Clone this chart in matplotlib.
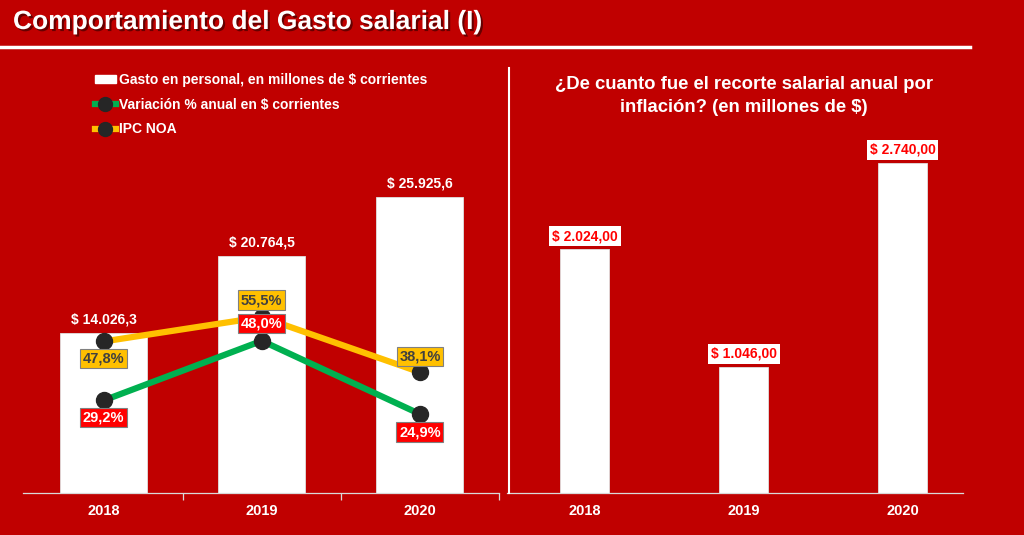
import matplotlib
matplotlib.use('Agg')
import matplotlib.pyplot as plt
from matplotlib import patheffects as pe
from matplotlib.lines import Line2D
from matplotlib.patches import Patch

plt.rcParams['font.family'] = ['Liberation Sans', 'DejaVu Sans']

# ---- data ----
years = ['2018', '2019', '2020']
gasto = [14026.3, 20764.5, 25925.6]
gasto_labels = ['$ 14.026,3', '$ 20.764,5', '$ 25.925,6']
variacion = [29.2, 48.0, 24.9]
variacion_labels = ['29,2%', '48,0%', '24,9%']
ipc = [47.8, 55.5, 38.1]
ipc_labels = ['47,8%', '55,5%', '38,1%']
recorte = [2024.00, 1046.00, 2740.00]
recorte_labels = ['$ 2.024,00', '$ 1.046,00', '$ 2.740,00']

legend_labels = ['Gasto en personal, en millones de $ corrientes',
                 'Variación % anual en $ corrientes',
                 'IPC NOA']
title = 'Comportamiento del Gasto salarial (I)'
right_title = '¿De cuanto fue el recorte salarial anual por\ninflación? (en millones de $)'

# ---- style ----
BG = '#C00000'
GREEN = '#00B050'
YELLOW = '#FFC000'
DARK = '#262626'
AXIS = '#D9D9D9'

W, H = 1024, 535
fig = plt.figure(figsize=(W / 100, H / 100), dpi=100, facecolor=BG)


def fx(px):
    return px / W


def fy(py):
    return 1 - py / H


def style_axis(a):
    a.set_facecolor('none')
    for s in ['top', 'right', 'left']:
        a.spines[s].set_visible(False)
    a.spines['bottom'].set_color(AXIS)
    a.spines['bottom'].set_linewidth(0.9)
    a.set_yticks([])
    a.tick_params(axis='x', which='major', length=0, pad=8,
                  labelcolor='white', labelsize=10.5)
    for lab in a.get_xticklabels():
        lab.set_fontweight('bold')


x = list(range(len(years)))

# ---- left chart ----
ax = fig.add_axes([fx(23), 1 - 493 / H, 476 / W, 433 / H])
ax.bar(x, gasto, width=0.55, color='white', edgecolor='#E0E0E0', linewidth=0.6, zorder=2)
ax.set_xlim(-0.51, 2.5)
ax.set_ylim(0, 433 / 0.01143)
ax.set_xticks(x)
ax.set_xticklabels(years)
ax.set_xticks([0.5, 1.5, 2.5], minor=True)
ax.tick_params(axis='x', which='minor', length=5, color=AXIS, width=0.9)
style_axis(ax)
for xi, v, lab in zip(x, gasto, gasto_labels):
    ax.annotate(lab, (xi, v), xytext=(0, 13), textcoords='offset pixels',
                ha='center', va='center', color='white', fontsize=10, fontweight='bold')

ax2 = ax.twinx()
ax2.set_ylim(0, 433 / 3.17)
ax2.set_axis_off()
ax2.plot(x, ipc, color=YELLOW, lw=4.5, marker='o', ms=11.5, mfc=DARK, mec=DARK, zorder=3)
ax2.plot(x, variacion, color=GREEN, lw=4.5, marker='o', ms=11.5, mfc=DARK, mec=DARK, zorder=3)

ipc_off = [-17, 17, 16]
var_off = [-17, 17, -18]
for xi, v, lab, off in zip(x, ipc, ipc_labels, ipc_off):
    ax2.annotate(lab, (xi, v), xytext=(0, off), textcoords='offset pixels',
                 ha='center', va='center', color='#404040', fontsize=10.5, fontweight='bold',
                 bbox=dict(boxstyle='square,pad=0.18', facecolor=YELLOW, edgecolor='#808080', lw=0.8),
                 zorder=5)
for xi, v, lab, off in zip(x, variacion, variacion_labels, var_off):
    ax2.annotate(lab, (xi, v), xytext=(0, off), textcoords='offset pixels',
                 ha='center', va='center', color='white', fontsize=10.5, fontweight='bold',
                 bbox=dict(boxstyle='square,pad=0.18', facecolor='#FF0000', edgecolor='#808080', lw=0.8),
                 zorder=6)

handles = [Patch(facecolor='white', edgecolor='white'),
           Line2D([], [], color=GREEN, lw=4.5, marker='o', ms=10, mfc=DARK, mec=DARK),
           Line2D([], [], color=YELLOW, lw=4.5, marker='o', ms=10, mfc=DARK, mec=DARK)]
leg = fig.legend(handles, legend_labels, loc='upper left', bbox_to_anchor=(fx(95), fy(73)),
                 frameon=False, labelcolor='white', handlelength=1.5, handletextpad=0.2,
                 handleheight=0.55, labelspacing=0.76, borderpad=0, borderaxespad=0,
                 prop=dict(size=10, weight='bold'))

# ---- right chart ----
axr = fig.add_axes([fx(507), 1 - 493 / H, 456 / W, 433 / H])
axr.bar(x, recorte, width=0.31, color='white', edgecolor='#E0E0E0', linewidth=0.6, zorder=2)
axr.set_xlim(-0.49, 2.38)
axr.set_ylim(0, 433 / 0.1205)
axr.set_xticks(x)
axr.set_xticklabels(years)
style_axis(axr)
for xi, v, lab in zip(x, recorte, recorte_labels):
    axr.annotate(lab, (xi, v), xytext=(0, 13), textcoords='offset pixels',
                 ha='center', va='center', color='#FF0000', fontsize=10, fontweight='bold',
                 bbox=dict(boxstyle='square,pad=0.2', facecolor='white', edgecolor='none'))

fig.text(fx(744), fy(96), right_title, ha='center', va='center', color='white',
         fontsize=13.3, fontweight='bold', linespacing=1.4)

# ---- frame ----
fig.text(fx(13), fy(22), title, ha='left', va='center', color='white', fontsize=19,
         fontweight='bold',
         path_effects=[pe.SimplePatchShadow(offset=(1.5, -1.5), shadow_rgbFace='#400000', alpha=0.7),
                       pe.Normal()])
fig.add_artist(Line2D([0, fx(970)], [fy(47), fy(47)], color='white', lw=2.5))
fig.add_artist(Line2D([fx(509), fx(509)], [fy(68), fy(493)], color='white', lw=1.5))

fig.savefig('out.png', dpi=100, facecolor=BG)
